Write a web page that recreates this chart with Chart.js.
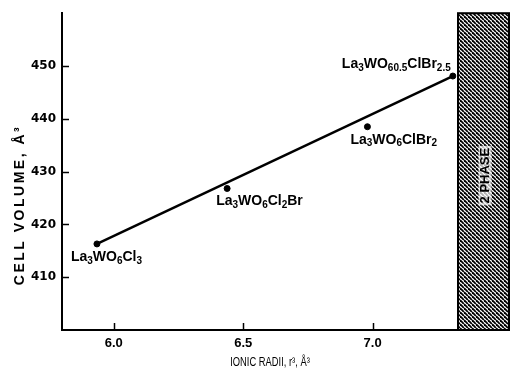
<!DOCTYPE html>
<html><head><meta charset="utf-8">
<script src="https://cdn.jsdelivr.net/npm/chart.js@4.4.0/dist/chart.umd.min.js"></script>
<style>html,body{margin:0;padding:0;background:#fff}canvas{display:block}</style>
</head><body>
<canvas id="c" width="514" height="371"></canvas>
<script>
// ---- data ----
const compounds = ['La_{3}WO_{6}Cl_{3}', 'La_{3}WO_{6}Cl_{2}Br', 'La_{3}WO_{6}ClBr_{2}', 'La_{3}WO_{60.5}ClBr_{2.5}'];
const ionicRadii = [5.935, 6.438, 6.98, 7.31];
const cellVolumes = [416.3, 426.8, 438.5, 448.1];
const fitRadii = [5.935, 7.31];
const fitVolumes = [416.3, 448.1];
const xTicks = [6.0, 6.5, 7.0];
const yTicks = [410, 420, 430, 440, 450];
const twoPhaseStart = 7.33;
const xRange = [5.8, 7.527];
const yRange = [400, 460];
const twoPhaseLabel = '2 PHASE';
const xTitle = 'IONIC RADII, r³, Å³';
const yTitle = 'CELL VOLUME, Å³';
// label offsets (pixels, style only)
const labelOffsets = [[-26, 13], [-11, 13], [-17, 13], [-111, -12]];

function drawRich(ctx, str, x, y) {
  const parts = str.split(/(_\{[^}]*\})/).filter(s => s.length);
  let cx = x;
  for (const p of parts) {
    if (p.startsWith('_{')) {
      const t = p.slice(2, -1);
      ctx.font = 'bold 10px "Liberation Sans", Arial, sans-serif';
      ctx.fillText(t, cx, y + 4);
      cx += ctx.measureText(t).width;
    } else {
      ctx.font = 'bold 14px "Liberation Sans", Arial, sans-serif';
      ctx.fillText(p, cx, y);
      cx += ctx.measureText(p).width;
    }
  }
}

function makeHatch(ctx) {
  const s = 4;
  const pc = document.createElement('canvas');
  pc.width = s; pc.height = s;
  const p = pc.getContext('2d');
  p.fillStyle = '#fff'; p.fillRect(0, 0, s, s);
  p.strokeStyle = '#000'; p.lineWidth = 1.8;
  for (let k = -1; k <= 1; k++) {
    p.beginPath(); p.moveTo(k * s, 0); p.lineTo(k * s + s, s); p.stroke();
  }
  return ctx.createPattern(pc, 'repeat');
}

const decor = {
  id: 'decor',
  beforeDatasetsDraw(chart) {
    const {ctx, chartArea: a, scales: {x, y}} = chart;
    const x0 = x.getPixelForValue(twoPhaseStart), x1 = a.right;
    const yt = a.top, yb = a.bottom;
    ctx.save();
    ctx.fillStyle = makeHatch(ctx);
    ctx.fillRect(x0, yt, x1 - x0, yb - yt);
    ctx.strokeStyle = '#000'; ctx.lineWidth = 2;
    ctx.strokeRect(x0, yt, x1 - x0, yb - yt);
    // 2 PHASE text
    ctx.translate((x0 + x1) / 2 + 2, (yt + yb) / 2 + 4);
    ctx.rotate(-Math.PI / 2);
    ctx.font = 'bold 13px "Liberation Sans", Arial, sans-serif';
    ctx.textAlign = 'center'; ctx.textBaseline = 'middle';
    const w = ctx.measureText(twoPhaseLabel).width;
    ctx.fillStyle = 'rgba(255,255,255,0.7)';
    ctx.fillRect(-w / 2 - 2, -7, w + 4, 13);
    ctx.fillStyle = '#000';
    ctx.fillText(twoPhaseLabel, 0, 0);
    ctx.restore();
    // inward ticks
    ctx.save();
    ctx.strokeStyle = '#000'; ctx.lineWidth = 1.5;
    for (const v of yTicks) {
      const py = Math.round(y.getPixelForValue(v)) + 0.5;
      ctx.beginPath(); ctx.moveTo(a.left, py); ctx.lineTo(a.left + 7, py); ctx.stroke();
    }
    for (const v of xTicks) {
      const px = Math.round(x.getPixelForValue(v)) + 0.5;
      ctx.beginPath(); ctx.moveTo(px, a.bottom); ctx.lineTo(px, a.bottom - 7); ctx.stroke();
    }
    ctx.restore();
  },
  afterDraw(chart) {
    const {ctx, scales: {x, y}} = chart;
    ctx.save();
    ctx.fillStyle = '#000';
    ctx.textBaseline = 'middle';
    ctx.textAlign = 'left';
    compounds.forEach((lab, i) => {
      const px = x.getPixelForValue(ionicRadii[i]) + labelOffsets[i][0];
      const py = y.getPixelForValue(cellVolumes[i]) + labelOffsets[i][1];
      drawRich(ctx, lab, px, py);
    });
    // axis titles
    ctx.textAlign = 'center';
    ctx.save();
    ctx.translate(270, 362);
    ctx.scale(0.72, 1);
    ctx.font = '13px "Liberation Sans", Arial, sans-serif';
    ctx.fillText(xTitle, 0, 0);
    ctx.restore();
    ctx.save();
    ctx.translate(20, 205);
    ctx.rotate(-Math.PI / 2);
    ctx.font = 'bold 14px "Liberation Sans", Arial, sans-serif';
    ctx.letterSpacing = '2.5px';
    ctx.fillText(yTitle, 0, 0);
    ctx.restore();
    ctx.restore();
  }
};

new Chart(document.getElementById('c'), {
  type: 'scatter',
  data: {
    datasets: [
      {
        type: 'line',
        data: fitRadii.map((v, i) => ({x: v, y: fitVolumes[i]})),
        borderColor: '#000', borderWidth: 2.5, pointRadius: 0, fill: false, tension: 0
      },
      {
        data: ionicRadii.map((v, i) => ({x: v, y: cellVolumes[i]})),
        backgroundColor: '#000', borderColor: '#000', pointRadius: 3
      }
    ]
  },
  options: {
    responsive: false, animation: false,
    layout: {padding: {top: 11, right: 2, left: 0, bottom: 0}},
    plugins: {legend: {display: false}, tooltip: {enabled: false}},
    scales: {
      x: {
        type: 'linear', min: xRange[0], max: xRange[1],
        afterBuildTicks: s => { s.ticks = xTicks.map(v => ({value: v})); },
        afterFit: s => { s.height = 41; },
        grid: {display: false, tickLength: 0},
        border: {display: true, color: '#000', width: 2},
        ticks: {color: '#000', padding: 6, maxRotation: 0,
          font: {family: '"Liberation Sans", Arial, sans-serif', size: 13, weight: 'bold'},
          callback: v => Number(v).toFixed(1)}
      },
      y: {
        type: 'linear', min: yRange[0], max: yRange[1],
        afterBuildTicks: s => { s.ticks = yTicks.map(v => ({value: v})); },
        afterFit: s => { s.width = 62; },
        grid: {display: false, tickLength: 0},
        border: {display: true, color: '#000', width: 2},
        ticks: {color: '#000', padding: 6,
          font: {family: '"DejaVu Sans", sans-serif', size: 12, weight: 'bold'},
          callback: v => String(v)}
      }
    }
  },
  plugins: [decor]
});
</script>
</body></html>
